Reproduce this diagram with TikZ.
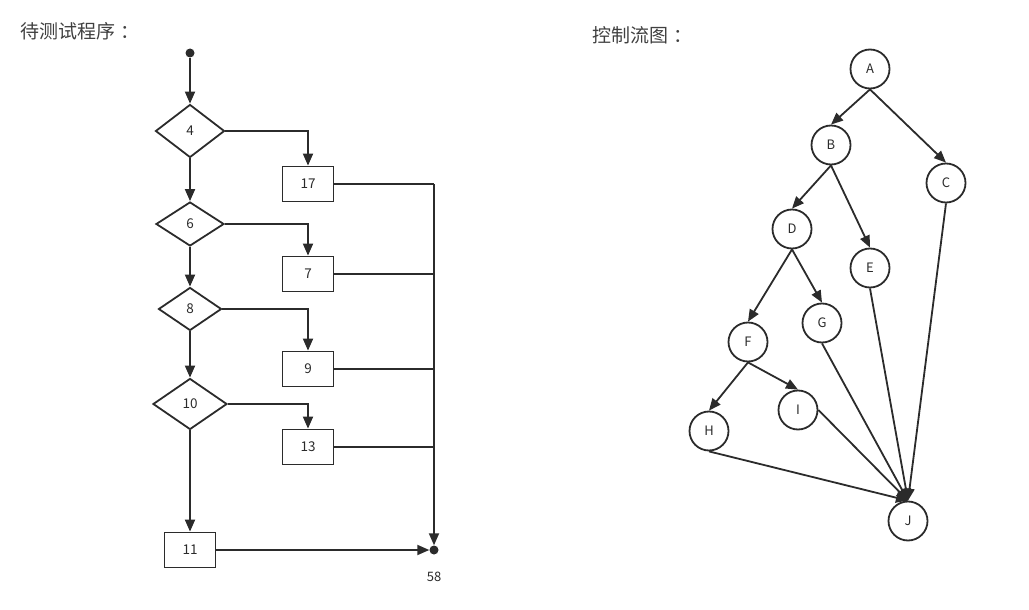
\documentclass[tikz,border=0pt]{standalone}
\usepackage{fontspec}
\setmainfont{Noto Sans CJK SC}
\usetikzlibrary{arrows.meta,shapes.geometric}
\definecolor{ink}{HTML}{2B2B2B}
\begin{document}
\begin{tikzpicture}[x=1pt,y=-1pt,
  every node/.style={text=ink},
  line/.style={draw=ink,line width=1.8pt},
  arr/.style={line,-{Triangle[length=12pt,width=10pt]}},
  dia/.style={diamond,draw=ink,line width=1.8pt,inner sep=0pt,font=\fontsize{13.5}{13.5}\selectfont},
  box/.style={rectangle,draw=ink,line width=1.8pt,minimum width=51pt,minimum height=35pt,inner sep=0pt,font=\fontsize{13.5}{13.5}\selectfont},
  circ/.style={circle,draw=ink,line width=1.8pt,minimum size=39pt,inner sep=0pt,font=\fontsize{13}{13}\selectfont},
  dot/.style={circle,fill=ink,minimum size=9pt,inner sep=0pt},
  title/.style={font=\fontsize{19}{19}\selectfont,anchor=west,text=ink!90}]
\useasboundingbox (0,0) rectangle (1029,610);
% titles
\node[title] (t1) at (17,31) {待测试程序\hspace{5pt}：};
\node[title] (t2) at (589,35) {控制流图\hspace{5pt}：};
% left flowchart
\node[dot] (s) at (190,53) {};
\node[dia,minimum width=69pt,minimum height=53pt] (d4) at (190,131) {4};
\node[dia,minimum width=68pt,minimum height=44pt] (d6) at (190,224) {6};
\node[dia,minimum width=63pt,minimum height=43pt] (d8) at (190,309) {8};
\node[dia,minimum width=74pt,minimum height=51pt] (d10) at (190,404) {10};
\node[box] (b17) at (308,184) {17};
\node[box] (b7) at (308,274) {7};
\node[box] (b9) at (308,369) {9};
\node[box] (b13) at (308,447) {13};
\node[box] (b11) at (190,550) {11};
\node[dot] (e) at (434,550) {};
\node[font=\fontsize{13}{13}\selectfont] (l58) at (434,577) {58};
\coordinate (r17) at (434,184);
\coordinate (r7) at (434,274);
\coordinate (r9) at (434,369);
\coordinate (r13) at (434,447);
\draw[arr] (s) -- (d4.north);
\draw[arr] (d4.south) -- (d6.north);
\draw[arr] (d6.south) -- (d8.north);
\draw[arr] (d8.south) -- (d10.north);
\draw[arr] (d10.south) -- (b11.north);
\draw[arr] (d4.east) -| (b17.north);
\draw[arr] (d6.east) -| (b7.north);
\draw[arr] (d8.east) -| (b9.north);
\draw[arr] (d10.east) -| (b13.north);
\draw[line] (b17.east) -- (r17);
\draw[line] (b7.east) -- (r7);
\draw[line] (b9.east) -- (r9);
\draw[line] (b13.east) -- (r13);
\draw[arr] (r17) -- (e.north);
\draw[arr] (b11.east) -- (e.west);
% right graph
\node[circ] (A) at (870,69) {A};
\node[circ] (B) at (831,145) {B};
\node[circ] (C) at (946,183) {C};
\node[circ] (D) at (792,229) {D};
\node[circ] (E) at (870,268) {E};
\node[circ] (F) at (748,342) {F};
\node[circ] (G) at (822,323) {G};
\node[circ] (H) at (709,431) {H};
\node[circ] (I) at (798,410) {I};
\node[circ] (J) at (908,521) {J};
\draw[arr] (A.south) -- (B.north);
\draw[arr] (A.south) -- (C.north);
\draw[arr] (B.south) -- (D.north);
\draw[arr] (B.south) -- (E.north);
\draw[arr] (D.south) -- (F.north);
\draw[arr] (D.south) -- (G.north);
\draw[arr] (F.south) -- (H.north);
\draw[arr] (F.south) -- (I.north);
\draw[arr] (H.south) -- (J.north);
\draw[arr] (I.east) -- (J.north);
\draw[arr] (G.south) -- (J.north);
\draw[arr] (E.south) -- (J.north);
\draw[arr] (C.south) -- (J.north);
\end{tikzpicture}
\end{document}
